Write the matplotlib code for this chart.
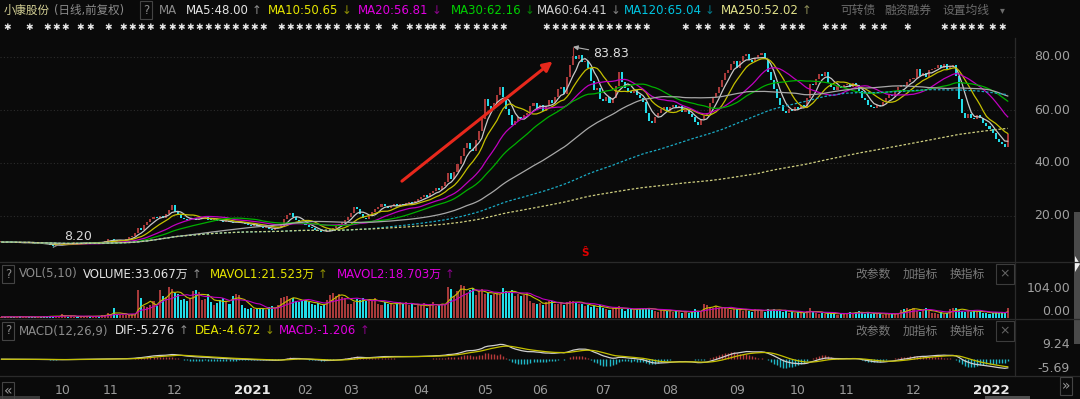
import numpy as np
import pandas as pd
import matplotlib
matplotlib.use("Agg")
import matplotlib.pyplot as plt
from matplotlib.transforms import blended_transform_factory
from matplotlib.patches import Rectangle, Polygon
from matplotlib.lines import Line2D

plt.rcParams["font.family"] = ["DejaVu Sans", "Noto Sans CJK SC"]

# ---------- 数据 ----------
# 交易日数 (2020-09 .. 2022-01)
month_days = [20, 16, 21, 23, 20, 15, 23, 21, 18, 21, 22, 22, 20, 16, 22, 23, 9]
month_labels = ["", "10", "11", "12", "2021", "02", "03", "04", "05", "06",
                "07", "08", "09", "10", "11", "12", "2022"]

close_2020_09 = [10.2, 10.0, 10.3, 10.1, 9.9, 10.0, 9.8, 9.9, 10.1, 10.0,
                 9.7, 9.6, 9.8, 9.5, 9.4, 9.3, 9.0, 8.8, 8.9, 9.1]
close_2020_10 = [9.3, 9.6, 9.5, 9.7, 9.8, 9.6, 9.7, 9.9, 10.0, 9.8,
                 9.9, 10.1, 10.0, 10.3, 10.6, 11.2]
close_2020_11 = [11.2, 10.8, 10.6, 10.8, 11.0, 11.3, 11.9, 12.6, 13.5, 15.3,
                 14.6, 16.5, 17.8, 18.9, 19.8, 19.2, 20.1, 19.4, 20.6, 22.4, 24.0]
close_2020_12 = [21.5, 20.2, 19.4, 18.8, 18.5, 18.9, 19.3, 18.6, 18.9, 19.5,
                 20.0, 18.6, 18.4, 18.7, 18.2, 18.0, 17.8, 18.2, 17.6, 17.2,
                 17.5, 17.8, 17.4]
close_2021_01 = [17.0, 16.6, 16.3, 16.8, 16.2, 15.8, 15.5, 15.9, 15.2, 14.9,
                 15.3, 15.8, 17.0, 18.8, 20.4, 21.0, 19.8, 18.6, 17.8, 17.2]
close_2021_02 = [16.6, 16.0, 15.4, 14.8, 14.4, 14.0, 13.8, 14.4, 14.9, 15.5,
                 16.2, 17.0, 17.8, 18.6, 19.5]
close_2021_03 = [21.0, 23.5, 22.6, 20.8, 19.2, 18.8, 20.2, 21.6, 22.8, 23.4,
                 24.6, 23.8, 23.0, 23.8, 24.4, 23.9, 24.6, 24.2, 24.8, 25.3,
                 24.9, 25.6, 26.4]
close_2021_04 = [27.0, 27.8, 27.2, 28.5, 29.6, 30.4, 29.8, 31.5, 32.8, 36.2,
                 34.0, 36.5, 39.5, 42.5, 45.8, 47.5, 45.2, 44.6, 48.5, 52.0, 56.5]
close_2021_05 = [64.0, 61.5, 60.2, 62.8, 65.5, 68.8, 65.0, 60.5, 58.0, 54.5,
                 56.0, 57.5, 56.8, 58.2, 59.0, 61.5, 62.8, 60.8]
close_2021_06 = [62.0, 59.8, 61.5, 63.8, 62.5, 65.0, 67.8, 68.5, 66.2, 72.5,
                 77.0, 80.5, 79.2, 80.6, 78.0, 78.6, 75.8, 71.0, 67.5, 68.4, 64.2]
close_2021_07 = [63.5, 65.0, 62.8, 64.5, 69.0, 74.5, 70.5, 68.2, 67.0, 66.5,
                 67.4, 65.8, 64.5, 63.0, 59.0, 56.0, 55.2, 57.5, 58.8, 60.2,
                 61.0, 59.8]
close_2021_08 = [61.0, 62.0, 60.6, 61.5, 59.2, 60.0, 58.4, 57.2, 55.6, 54.2,
                 56.5, 57.8, 59.0, 62.5, 64.8, 66.5, 68.8, 71.5, 73.8, 75.2,
                 77.5, 78.6]
close_2021_09 = [75.8, 78.5, 80.4, 81.2, 78.8, 78.0, 79.5, 80.8, 81.5, 79.2,
                 74.5, 71.2, 68.0, 64.5, 61.8, 59.8, 59.0, 60.4, 59.6, 61.2]
close_2021_10 = [60.5, 62.0, 60.8, 64.5, 69.8, 69.4, 71.8, 73.5, 72.8, 74.2,
                 70.2, 68.6, 67.4, 69.0, 68.2, 69.5]
close_2021_11 = [70.0, 68.8, 70.2, 69.5, 67.2, 64.5, 63.8, 62.0, 61.2, 60.6,
                 62.0, 61.5, 63.0, 64.6, 65.8, 65.2, 66.8, 68.5, 69.6, 69.0,
                 70.4, 71.8]
close_2021_12 = [72.0, 75.5, 73.0, 74.0, 72.5, 75.0, 75.5, 76.0, 77.0, 76.0,
                 77.5, 75.5, 76.5, 77.0, 73.0, 64.0, 59.0, 57.0, 58.5, 57.0,
                 56.5, 58.0, 57.0]
close_2022_01 = [55.0, 54.0, 53.0, 51.5, 49.0, 48.0, 47.0, 46.0, 51.0]

# 成交量 (万手)
vol_2020_09 = [4, 3, 5, 4, 3, 4, 6, 5, 3, 4, 4, 3, 5, 4, 6, 5, 8, 7, 5, 6]
vol_2020_10 = [15, 7, 5, 6, 5, 4, 6, 5, 7, 5, 6, 8, 6, 9, 12, 18]
vol_2020_11 = [14, 33, 10, 12, 9, 11, 10, 13, 12, 96, 70, 42, 38, 45, 60, 40,
               96, 75, 72, 108, 100]
vol_2020_12 = [88, 84, 62, 65, 58, 70, 92, 96, 90, 62, 66, 84, 55, 45, 52, 64,
               68, 60, 50, 78, 82, 80, 45]
vol_2021_01 = [35, 32, 34, 30, 33, 36, 31, 28, 38, 42, 36, 45, 68, 72, 75, 66,
               70, 60, 55, 58]
vol_2021_02 = [62, 56, 48, 44, 52, 40, 46, 63, 80, 86, 78, 84, 72, 68, 50]
vol_2021_03 = [48, 56, 66, 62, 70, 58, 64, 60, 68, 50, 46, 55, 48, 52, 45, 50,
               54, 47, 56, 44, 52, 38, 46]
vol_2021_04 = [40, 52, 36, 48, 55, 42, 46, 50, 44, 108, 102, 78, 94, 115, 112,
               88, 98, 105, 80, 92, 100]
vol_2021_05 = [82, 85, 80, 84, 86, 82, 105, 92, 88, 96, 78, 84, 75, 80, 88, 60,
               52, 48]
vol_2021_06 = [52, 46, 55, 60, 58, 50, 48, 52, 45, 55, 60, 58, 56, 48, 50, 42,
               45, 38, 40, 35, 44]
vol_2021_07 = [36, 30, 28, 34, 38, 40, 32, 26, 30, 34, 28, 32, 30, 35, 36, 33,
               28, 24, 22, 30, 26, 24]
vol_2021_08 = [25, 20, 28, 22, 18, 24, 16, 22, 30, 26, 20, 50, 46, 38, 35, 40,
               33, 36, 34, 30, 28, 32]
vol_2021_09 = [30, 28, 26, 32, 24, 22, 30, 28, 26, 22, 30, 28, 32, 24, 26, 22,
               28, 18, 20, 16]
vol_2021_10 = [22, 18, 16, 24, 33, 20, 18, 15, 17, 14, 19, 13, 16, 12, 15, 18]
vol_2021_11 = [16, 20, 14, 22, 24, 18, 15, 20, 13, 16, 14, 17, 12, 15, 14, 16,
               13, 18, 28, 32, 36, 30]
vol_2021_12 = [34, 26, 22, 28, 36, 24, 18, 16, 14, 20, 15, 17, 30, 36, 33, 28,
               26, 22, 24, 20, 27, 22, 25]
vol_2022_01 = [16, 18, 15, 17, 20, 18, 19, 17, 33.067]

# 标注
peak_day, peak_high = 188, 83.83
low_day, low_value = 17, 8.20
trend_arrow = ((131, 32.5), (182, 79.0))
signal_day = 192

header_ma = [("MA5:48.00", "↑", "#e4e4e4"), ("MA10:50.65", "↓", "#e6e600"),
             ("MA20:56.81", "↓", "#e000e0"), ("MA30:62.16", "↓", "#00d000"),
             ("MA60:64.41", "↓", "#d0d0d0"), ("MA120:65.04", "↓", "#00c4e0"),
             ("MA250:52.02", "↑", "#e2e28a")]
header_ma_x = [186, 268, 358, 451, 537, 624, 721]
vol_header = [("VOLUME:33.067万", "↑", "#e4e4e4"), ("MAVOL1:21.523万", "↑", "#e6e600"),
              ("MAVOL2:18.703万", "↑", "#e000e0")]
vol_header_x = [83, 210, 337]
macd_header = [("DIF:-5.276", "↑", "#e4e4e4"), ("DEA:-4.672", "↓", "#e6e600"),
               ("MACD:-1.206", "↑", "#e000e0")]
macd_header_x = [115, 195, 279]
vol_ticks = [104.00, 0.00]
macd_ticks = [9.24, -5.69]
price_ticks = [80, 60, 40, 20]

event_spans = [(2, 2), (9, 9), (15, 15), (18, 18), (21, 21), (26, 30), (35, 35),
               (40, 50), (53, 86), (92, 107), (110, 110), (114, 121), (124, 124),
               (129, 129), (134, 140), (142, 145), (150, 167), (179, 214),
               (225, 225), (229, 232), (237, 241), (245, 245), (250, 250),
               (257, 265), (271, 277), (283, 283), (287, 292), (298, 298),
               (310, 323), (326, 331)]

closes = np.array(close_2020_09 + close_2020_10 + close_2020_11 + close_2020_12 +
                  close_2021_01 + close_2021_02 + close_2021_03 + close_2021_04 +
                  close_2021_05 + close_2021_06 + close_2021_07 + close_2021_08 +
                  close_2021_09 + close_2021_10 + close_2021_11 + close_2021_12 +
                  close_2022_01)
volumes = np.array(vol_2020_09 + vol_2020_10 + vol_2020_11 + vol_2020_12 +
                   vol_2021_01 + vol_2021_02 + vol_2021_03 + vol_2021_04 +
                   vol_2021_05 + vol_2021_06 + vol_2021_07 + vol_2021_08 +
                   vol_2021_09 + vol_2021_10 + vol_2021_11 + vol_2021_12 +
                   vol_2022_01, dtype=float)

# ---------- 指标 ----------
idx = np.arange(len(closes))
opens = np.r_[closes[0], closes[:-1]]
up = closes >= opens
s = pd.Series(closes)
ma = {n: s.rolling(n, min_periods=1).mean() for n in (5, 10, 20, 30, 60, 120, 250)}
v = pd.Series(volumes)
mavol1 = v.rolling(5, min_periods=1).mean()
mavol2 = v.rolling(10, min_periods=1).mean()
dif = s.ewm(span=12, adjust=False).mean() - s.ewm(span=26, adjust=False).mean()
dea = dif.ewm(span=9, adjust=False).mean()
macd = 2 * (dif - dea)

# ---------- 画布 ----------
W, H = 1080, 399
BG = "#0a0a0a"
RED = "#a83a3a"
CYAN = "#22dce8"
GRAY = "#8c8c8c"
fig = plt.figure(figsize=(W / 100, H / 100), dpi=100, facecolor=BG)
renderer = fig.canvas.get_renderer()


def box(x0, y0, x1, y1):
    return [x0 / W, 1 - y1 / H, (x1 - x0) / W, (y1 - y0) / H]


def ptext(x, y, s, color, size=8.5, ha="left", **kw):
    return fig.text(x / W, 1 - y / H, s, color=color, fontsize=size, ha=ha, va="center", **kw)


def right_edge(t):
    return t.get_window_extent(renderer).x1


def qbox(x, y, s):
    ptext(x, y, s, GRAY, size=8.5, ha="center",
          bbox=dict(boxstyle="square,pad=0.25", fc="none", ec="#444444", lw=0.8))


XL = (-1.5 / 3.04, (1015 - 1.5) / 3.04)
ax_p = fig.add_axes(box(0, 38, 1015, 262))
ax_v = fig.add_axes(box(0, 262, 1015, 318))
ax_m = fig.add_axes(box(0, 319, 1015, 376))
for ax in (ax_p, ax_v, ax_m):
    ax.set_facecolor(BG)
    ax.set_xlim(*XL)
    ax.set_xticks([])
    ax.set_yticks([])
    for sp in ax.spines.values():
        sp.set_visible(False)

ax_p.set_ylim(80 - (262 - 57) / 2.65, 80 - (38 - 57) / 2.65)
ax_v.set_ylim(0, (318 - 262) * 104 / 30)
mscale = (macd_ticks[0] - macd_ticks[1]) / 23
ax_m.set_ylim(macd_ticks[1] - 8 * mscale, macd_ticks[0] + 26 * mscale)

# ---------- K线 ----------
for t in price_ticks:
    ax_p.axhline(t, color="#2c2c2c", lw=0.8, ls=(0, (1, 2)))
cols = np.where(up, RED, CYAN)
body = np.maximum(np.abs(closes - opens), 0.3)
ax_p.bar(idx, body, bottom=np.minimum(opens, closes), width=0.66, color=cols, linewidth=0, zorder=3)
ax_p.vlines([peak_day, low_day], [closes[peak_day], low_value],
            [peak_high, closes[low_day]], colors=[RED, CYAN], lw=0.8, zorder=3)

ma_style = {5: ("#c8c8c8", "-"), 10: ("#c4c000", "-"), 20: ("#c000c0", "-"),
            30: ("#00b000", "-"), 60: ("#a8a8a8", "-"),
            120: ("#1aaac4", (0, (2, 1.5))), 250: ("#cfcf80", (0, (2, 1.5)))}
for n, (c, ls) in ma_style.items():
    ax_p.plot(idx, ma[n], color=c, lw=0.9, ls=ls, zorder=4)

ax_p.annotate("", xy=trend_arrow[1], xytext=trend_arrow[0],
              arrowprops=dict(arrowstyle="-|>", color="#e8281c", lw=2.2, mutation_scale=14), zorder=6)
ax_p.annotate(f"{peak_high:.2f}", xy=(peak_day, peak_high), xytext=(peak_day + 6.5, 81.2),
              color="#e0e0e0", fontsize=9, va="center",
              arrowprops=dict(arrowstyle="-|>", color="#b0b0b0", lw=0.8, mutation_scale=7,
                              shrinkA=1, shrinkB=0), zorder=6)
ax_p.annotate(f"{low_value:.2f}", xy=(low_day, low_value), xytext=(low_day + 3.5, 12.4),
              color="#d8d8d8", fontsize=9, va="center",
              arrowprops=dict(arrowstyle="-", color="#909090", lw=0.7, shrinkA=0, shrinkB=0), zorder=6)
ax_p.text(signal_day, 6.0, "Ŝ", color="#e00000", fontsize=7.5, fontweight="bold", ha="center", va="center")

# 事件标记 (✱)
tr = blended_transform_factory(ax_p.transData, fig.transFigure)
for a, b in event_spans:
    for d in np.arange(a, b + 1, 3):
        ax_p.text(d, 1 - 28 / H, "✱", transform=tr, color="#e8e8e8", fontsize=6.5,
                  ha="center", va="center", clip_on=False, family="DejaVu Sans")

# ---------- 成交量 ----------
ax_v.bar(idx, volumes, width=0.66, color=cols, linewidth=0)
ax_v.plot(idx, mavol1, color="#c4c000", lw=0.8)
ax_v.plot(idx, mavol2, color="#c000c0", lw=0.8)

# ---------- MACD ----------
ax_m.vlines(idx, 0, macd, colors=np.where(macd >= 0, "#b83a3a", "#20b8c8"), lw=1.0)
ax_m.plot(idx, dif, color="#d0d0d0", lw=0.9)
ax_m.plot(idx, dea, color="#c4c000", lw=0.9)

# ---------- 右侧坐标 ----------
for ax, ticks in ((ax_p, price_ticks), (ax_v, vol_ticks), (ax_m, macd_ticks)):
    trf = blended_transform_factory(fig.transFigure, ax.transData)
    for t in ticks:
        va = "bottom" if (ax is ax_v and t == 0) else "center"
        ax.text(1070 / W, t, f"{t:.2f}", transform=trf, color="#a0a0a0", fontsize=9,
                ha="right", va=va, clip_on=False)

# ---------- 分隔线 ----------
for y in (262, 319, 376):
    fig.add_artist(Line2D([0, 1], [1 - y / H] * 2, color="#2a2a2a", lw=0.9))
fig.add_artist(Line2D([1015 / W] * 2, [1 - 38 / H, 1 - 376 / H], color="#2a2a2a", lw=0.9))
fig.add_artist(Rectangle((1074 / W, 1 - 344 / H), 6 / W, 132 / H, color="#4a4a4a", lw=0))
fig.add_artist(Polygon([[1075 / W, 1 - 256 / H], [1075 / W, 1 - 272 / H], [1080 / W, 1 - 264 / H]],
                       closed=True, color="#f0f0f0", lw=0))
fig.add_artist(Rectangle((0, 0), 40 / W, 3 / H, color="#3a3a3a", lw=0))
fig.add_artist(Rectangle((985 / W, 0), 45 / W, 3 / H, color="#505050", lw=0))

# ---------- 标题行 ----------
t = ptext(4, 10, "小康股份", "#d6d296", size=8.3)
t = ptext(right_edge(t) + 4, 10, "(日线,前复权)", GRAY, size=8.3)
qbox(max(146, right_edge(t) + 10), 10, "?")
ptext(159, 10, "MA", GRAY)
for (lab, arr, c), x in zip(header_ma, header_ma_x):
    t = ptext(x, 10, lab, c)
    ptext(right_edge(t) + 3, 10, arr, c, alpha=0.6)
ptext(840, 10, "可转债", "#6c6c6c", size=8.5)
ptext(884, 10, "融资融券", "#6c6c6c", size=8.5)
ptext(943, 10, "设置均线", "#6c6c6c", size=8.5)
ptext(1000, 10, "▾", "#6c6c6c", size=7)

for y, name, items, xs in ((274, "VOL(5,10)", vol_header, vol_header_x),
                           (331, "MACD(12,26,9)", macd_header, macd_header_x)):
    qbox(8, y, "?")
    ptext(19, y, name, GRAY)
    for (lab, arr, c), x in zip(items, xs):
        t = ptext(x, y, lab, c)
        ptext(right_edge(t) + 3, y, arr, c, alpha=0.6)
    ptext(855, y, "改参数", "#7a7a7a", size=8.5)
    ptext(903, y, "加指标", "#7a7a7a", size=8.5)
    ptext(950, y, "换指标", "#7a7a7a", size=8.5)
    ptext(1005, y, "×", "#666666", size=9, ha="center",
          bbox=dict(boxstyle="square,pad=0.3", fc="none", ec="#3c3c3c", lw=0.8))

# ---------- 月份 ----------
starts = np.cumsum([0] + month_days[:-1])
trx = blended_transform_factory(ax_m.transData, fig.transFigure)
for st, lab in zip(starts, month_labels):
    if not lab:
        continue
    year = len(lab) == 4
    ax_m.text(st + (2.5 if year else 0), 1 - 391 / H, lab, transform=trx, ha="center", va="center",
              color="#e8e8e8" if year else "#9a9a9a", fontsize=9.5 if year else 9,
              fontweight="bold" if year else "normal", clip_on=False)
ptext(8, 391, "«", "#9a9a9a", size=10, ha="center",
      bbox=dict(boxstyle="square,pad=0.15", fc="none", ec="#444444", lw=0.8))
ptext(1066, 386, "»", "#9a9a9a", size=10, ha="center",
      bbox=dict(boxstyle="square,pad=0.15", fc="none", ec="#444444", lw=0.8))

fig.savefig("out.png", dpi=100, facecolor=BG)
